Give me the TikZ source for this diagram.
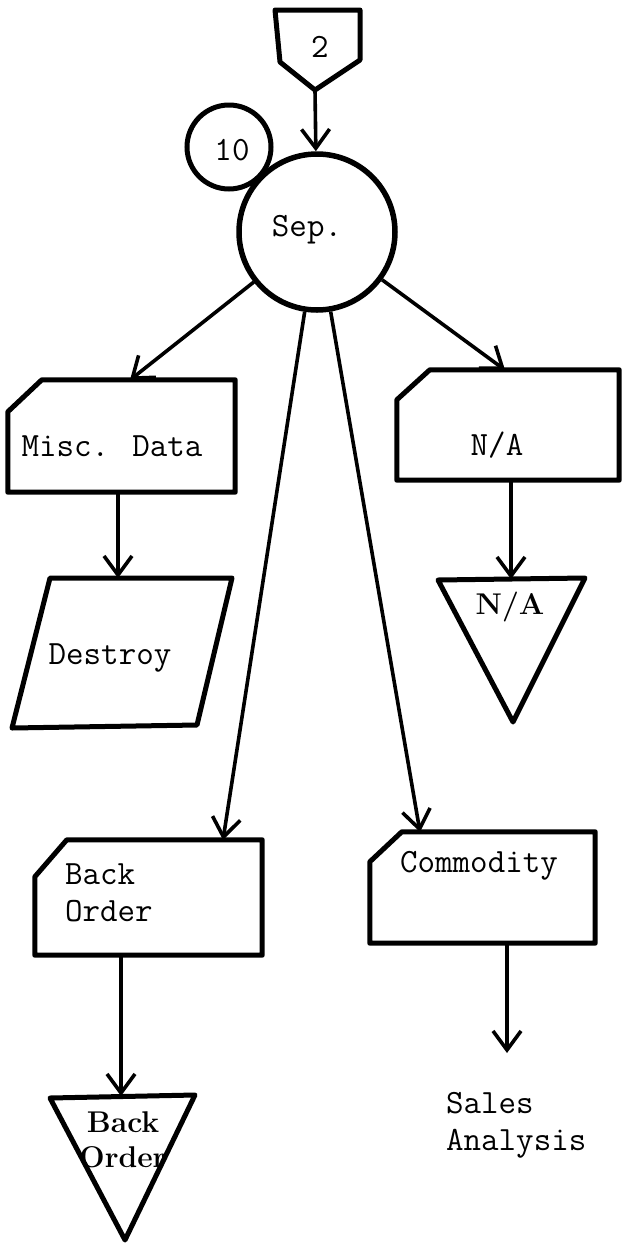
\documentclass[tikz,border=0pt]{standalone}
\usetikzlibrary{arrows.meta,calc}

% outline of a punched-card symbol (cut top-left corner) around a named node
\newcommand\cardoutline[3]{%
  \draw[shape line] (#1.south west) -- (#1.south east) -- (#1.north east)
    -- ($(#1.north west)+(#2,0)$) -- ($(#1.north west)+(0,#3)$) -- cycle;}

\begin{document}
\begin{tikzpicture}[x=1pt,y=-1pt,
  shape line/.style={line width=5pt, line join=round},
  flow/.style={line width=3.6pt, -{Straight Barb[length=19pt,width=28pt]}},
  frame/.style={rectangle, inner sep=0pt, draw=none},
  tt/.style={font=\fontsize{34}{37}\selectfont\ttfamily, inner sep=0pt, align=left},
  rm/.style={font=\fontsize{30}{35}\selectfont\rmfamily\bfseries, inner sep=0pt, align=center}
]
\useasboundingbox (0,0) rectangle (622,1243);

% off-page connector and the separation step
\draw[shape line] (275,10) -- (360,10) -- (360,60) -- (315,90) -- (280,62) -- cycle;
\node[tt] (pg) at (320,47) {2};
\coordinate (pgout) at (315,90);

\node[circle, draw, line width=5.5pt, minimum size=156pt, inner sep=0pt] (sep) at (317,232) {};
\node[tt] (septxt) at (307,230) {Sep.};
\node[circle, draw, line width=5pt, minimum size=84pt, inner sep=0pt] (step10) at (229,147) {};
\node[tt] (step10txt) at (232,150) {10};

% cards
\node[frame, minimum width=227pt, minimum height=112pt] (misc) at (121.5,436) {};
\cardoutline{misc}{34}{32}
\node[tt] (misctxt) at (112,446) {Misc. Data};

\node[frame, minimum width=222pt, minimum height=110pt] (na) at (508,425) {};
\cardoutline{na}{33}{30}
\node[tt] (natxt) at (497,445) {N/A};

\node[frame, minimum width=227pt, minimum height=115pt] (back) at (148.5,897.5) {};
\cardoutline{back}{32}{37}
\node[tt, anchor=west] (backtxt) at (65,893) {Back\\Order};

\node[frame, minimum width=225pt, minimum height=111pt] (comm) at (482.5,887.5) {};
\cardoutline{comm}{32}{30}
\node[tt] (commtxt) at (479,866) {Commodity};

% destroy (parallelogram)
\draw[shape line] (50,578) -- (232,578) -- (197,725) -- (12,728) -- cycle;
\node[tt] (destroy) at (110,658) {Destroy};
\coordinate (dstin) at (118,578);

% files (triangles)
\draw[shape line] (438,580) -- (585,578) -- (513,722) -- cycle;
\node[rm] (natri) at (510,607) {N/A};
\coordinate (natrin) at (511,579);

\draw[shape line] (50,1098) -- (195,1095) -- (125,1240) -- cycle;
\node[rm] (botri) at (123,1140) {Back\\Order};
\coordinate (botrin) at (121,1096);

% destination text
\node[tt, anchor=west] (sales) at (446,1125) {Sales\\Analysis};
\coordinate (salesin) at (507,1053);

% entry points on the cards
\coordinate (miscin) at (130,380);
\coordinate (nain) at (505,370);
\coordinate (backin) at (223,840);
\coordinate (commin) at (420,832);

% connectors
\draw[flow] (pgout) -- (sep);
\draw[flow] (sep) -- (miscin);
\draw[flow] (sep) -- (nain);
\draw[flow] (sep) -- (backin);
\draw[flow] (sep) -- (commin);
\draw[flow] (dstin |- misc.south) -- (dstin);
\draw[flow] (natrin |- na.south) -- (natrin);
\draw[flow] (botrin |- back.south) -- (botrin);
\draw[flow] (salesin |- comm.south) -- (salesin);
\end{tikzpicture}
\end{document}
